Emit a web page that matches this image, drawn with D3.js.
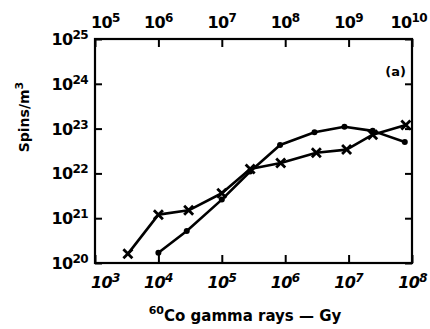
<!DOCTYPE html>
<html>
<head>
<meta charset="utf-8">
<script src="https://cdn.jsdelivr.net/npm/d3@7"></script>
<style>
  body { margin: 0; background: #fff; }
  svg { font-family: "DejaVu Sans", "Liberation Sans", Arial, sans-serif; font-weight: bold; }
</style>
</head>
<body>
<svg id="chart"></svg>
<script>
// dose (Gy) and spin density (spins/m^3)
var crossDose  = [3.3e3, 1e4, 3e4, 1e5, 2.8e5, 8.5e5, 3.1e6, 9.3e6, 2.4e7, 8e7];
var crossSpins = [1.6e20, 1.2e21, 1.5e21, 3.6e21, 1.26e22, 1.7e22, 2.9e22, 3.4e22, 7.3e22, 1.2e23];
var dotDose    = [1e4, 2.8e4, 1e5, 2.8e5, 8.3e5, 2.9e6, 8.6e6, 2.4e7, 7.7e7];
var dotSpins   = [1.7e20, 5.2e20, 2.6e21, 1.1e22, 4.3e22, 8.3e22, 1.1e23, 8.9e22, 5e22];

var bottomExp = [3, 4, 5, 6, 7, 8];
var topExp = [5, 6, 7, 8, 9, 10];
var leftExp = [20, 21, 22, 23, 24, 25];

var svgWidth = 430, svgHeight = 329;
var margin = { top: 39, right: 18, bottom: 66, left: 95 };
var width = svgWidth - margin.left - margin.right;
var height = svgHeight - margin.top - margin.bottom;

var svg = d3.select("#chart")
    .attr("width", svgWidth)
    .attr("height", svgHeight);

var g = svg.append("g")
    .attr("transform", "translate(" + margin.left + "," + margin.top + ")");

var x = d3.scaleLog().domain([1e3, 1e8]).range([0, width]);
var xTop = d3.scaleLog().domain([1e5, 1e10]).range([0, width]);
var y = d3.scaleLog().domain([1e20, 1e25]).range([height, 0]);

function styleAxis(sel) {
  sel.select(".domain").remove();
  sel.selectAll(".tick line").attr("stroke", "#000").attr("stroke-width", 2);
  sel.selectAll(".tick text").remove();
}

// ticks pointing into the plot
g.append("g").attr("transform", "translate(0," + height + ")")
    .call(d3.axisBottom(x).tickValues(bottomExp.map(function(e) { return Math.pow(10, e); })).tickSize(-8))
    .call(styleAxis);
g.append("g")
    .call(d3.axisTop(xTop).tickValues(topExp.map(function(e) { return Math.pow(10, e); })).tickSize(-8))
    .call(styleAxis);
g.append("g")
    .call(d3.axisLeft(y).tickValues(leftExp.map(function(e) { return Math.pow(10, e); })).tickSize(-7))
    .call(styleAxis);
g.append("g").attr("transform", "translate(" + width + ",0)")
    .call(d3.axisRight(y).tickValues(leftExp.map(function(e) { return Math.pow(10, e); })).tickSize(-7))
    .call(styleAxis);

// frame
g.append("rect")
    .attr("width", width)
    .attr("height", height)
    .attr("fill", "none")
    .attr("stroke", "#000")
    .attr("stroke-width", 2.2);

function powLabel(parent, px, py, exp, anchor, italic) {
  var t = parent.append("text")
      .attr("x", px)
      .attr("y", py)
      .attr("text-anchor", anchor)
      .attr("font-size", 16)
      .attr("letter-spacing", -0.6)
      .attr("fill", "#000");
  if (italic) t.attr("font-style", "italic");
  t.append("tspan").text("10");
  t.append("tspan").attr("font-size", 12).attr("dy", -6).text(exp);
  return t;
}

// end labels are pulled inward so they stay beside the frame corners
function xLabelPos(i, n, px) {
  if (i === 0) return { x: px - 4, anchor: "start" };
  if (i === n - 1) return { x: px + 15, anchor: "end" };
  return { x: px, anchor: "middle" };
}

bottomExp.forEach(function(e, i) {
  var p = xLabelPos(i, bottomExp.length, x(Math.pow(10, e)));
  powLabel(g, p.x, height + 25, e, p.anchor, true);
});
topExp.forEach(function(e, i) {
  var p = xLabelPos(i, topExp.length, xTop(Math.pow(10, e)));
  powLabel(g, p.x, -11, e, p.anchor, false);
});
leftExp.forEach(function(e) {
  powLabel(g, -7, y(Math.pow(10, e)) + 6, e, "end", false);
});

// axis titles
var yt = svg.append("text")
    .attr("transform", "translate(29,117) rotate(-90)")
    .attr("text-anchor", "middle")
    .attr("font-size", 14);
yt.append("tspan").text("Spins/m");
yt.append("tspan").attr("font-size", 11).attr("dy", -6).text("3");

var xt = svg.append("text")
    .attr("x", 245)
    .attr("y", 321)
    .attr("text-anchor", "middle")
    .attr("font-size", 15);
xt.append("tspan").attr("font-size", 11).attr("dy", -7).text("60");
xt.append("tspan").attr("dy", 7).text("Co gamma rays \u2014 Gy");

g.append("text")
    .attr("x", width - 6)
    .attr("y", 37)
    .attr("text-anchor", "end")
    .attr("font-size", 13)
    .text("(a)");

// series
var crossData = crossDose.map(function(d, i) { return [d, crossSpins[i]]; });
var dotData = dotDose.map(function(d, i) { return [d, dotSpins[i]]; });

var line = d3.line()
    .x(function(d) { return x(d[0]); })
    .y(function(d) { return y(d[1]); });

[crossData, dotData].forEach(function(data) {
  g.append("path")
      .datum(data)
      .attr("fill", "none")
      .attr("stroke", "#000")
      .attr("stroke-width", 2.6)
      .attr("stroke-linejoin", "round")
      .attr("d", line);
});

var s = 4.5;
g.selectAll(".cross")
    .data(crossData)
    .enter().append("path")
    .attr("class", "cross")
    .attr("d", function(d) {
      var cx = x(d[0]), cy = y(d[1]);
      return "M" + (cx - s) + "," + (cy - s) + "L" + (cx + s) + "," + (cy + s) +
             "M" + (cx - s) + "," + (cy + s) + "L" + (cx + s) + "," + (cy - s);
    })
    .attr("stroke", "#000")
    .attr("stroke-width", 2.8);

g.selectAll(".dot")
    .data(dotData)
    .enter().append("circle")
    .attr("class", "dot")
    .attr("cx", function(d) { return x(d[0]); })
    .attr("cy", function(d) { return y(d[1]); })
    .attr("r", 3)
    .attr("fill", "#000");
</script>
</body>
</html>
